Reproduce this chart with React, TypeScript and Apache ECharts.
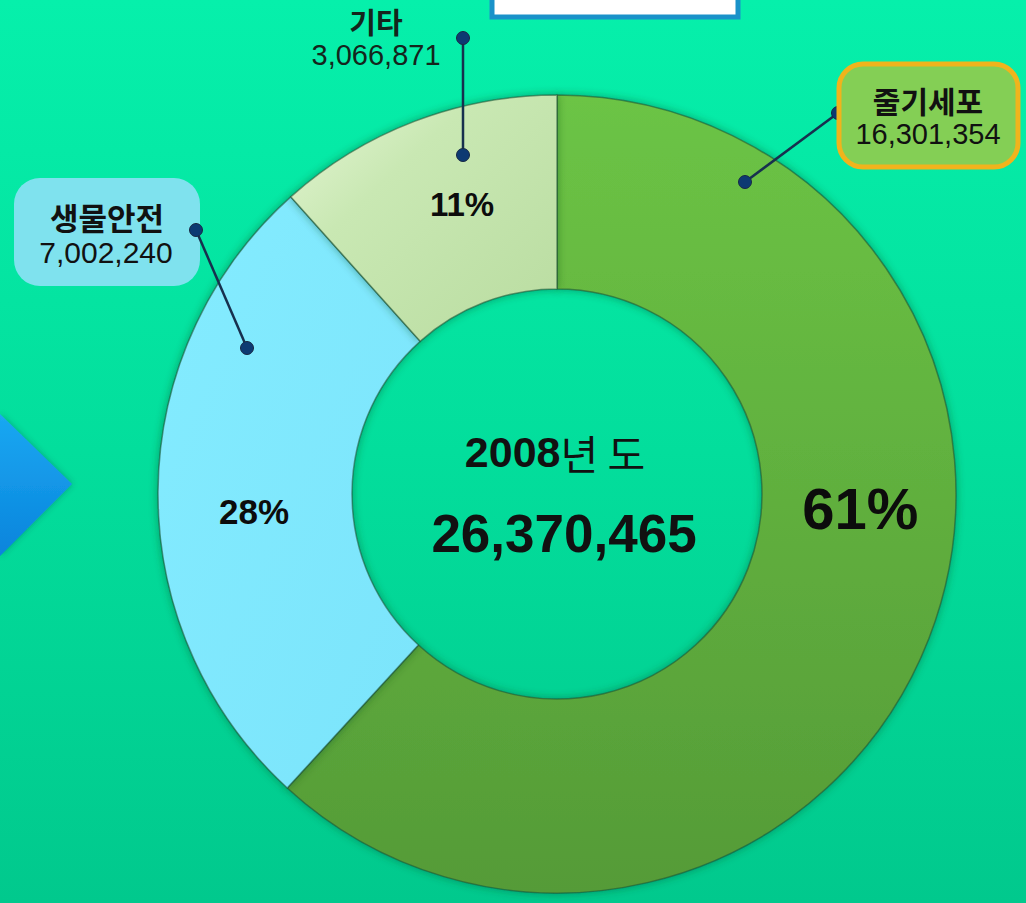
import React, { useEffect, useRef } from "react";
import * as echarts from "echarts";

const categories = ["줄기세포", "생물안전", "기타"];
const values = [16301354, 7002240, 3066871];
const valueLabels = ["16,301,354", "7,002,240", "3,066,871"];
const percentLabels = ["61%", "28%", "11%"];
const centerYear = "2008";
const centerYearSuffix = "년 도";
const centerTotal = "26,370,465";

const KR = '"Noto Sans CJK KR", "Noto Sans", sans-serif';
const AR = '"Liberation Sans", Arial, sans-serif';

export default function App() {
  const ref = useRef<HTMLDivElement>(null);

  useEffect(() => {
    if (!ref.current) return;
    const chart = echarts.init(ref.current, null, { renderer: "svg" });

    const sliceStyles = [
      {
        color: new echarts.graphic.LinearGradient(0, 0, 0, 1, [
          { offset: 0, color: "#6cc445" },
          { offset: 1, color: "#559b37" },
        ]),
        labelSize: 58,
        offset: [19, -96],
      },
      {
        color: new echarts.graphic.LinearGradient(0, 0, 1, 1, [
          { offset: 0, color: "#84ecff" },
          { offset: 1, color: "#7be4fb" },
        ]),
        labelSize: 35,
        offset: [2, 19],
      },
      {
        color: new echarts.graphic.LinearGradient(0, 0, 1, 1, [
          { offset: 0, color: "#e6f6d6" },
          { offset: 0.35, color: "#c9e8b3" },
          { offset: 1, color: "#b9dca0" },
        ]),
        labelSize: 33,
        offset: [14, -5],
      },
    ];

    const data = categories.map((name, i) => ({
      name,
      value: values[i],
      itemStyle: { color: sliceStyles[i].color },
      label: {
        formatter: percentLabels[i],
        fontSize: sliceStyles[i].labelSize,
        offset: sliceStyles[i].offset,
      },
    }));

    const dot = (x: number, y: number) => ({
      type: "circle",
      shape: { cx: x, cy: y, r: 6.5 },
      style: { fill: "#0d3a72", stroke: "#1a2a44", lineWidth: 1 },
      z: 20,
    });
    const line = (x1: number, y1: number, x2: number, y2: number) => ({
      type: "line",
      shape: { x1, y1, x2, y2 },
      style: { stroke: "#17304e", lineWidth: 2.5 },
      z: 19,
    });

    const option: any = {
      animation: false,
      backgroundColor: "transparent",
      series: [
        {
          type: "pie",
          center: [557, 494],
          radius: [205, 399],
          startAngle: 90,
          clockwise: true,
          avoidLabelOverlap: false,
          itemStyle: {
            borderColor: "rgba(30,80,50,0.55)",
            borderWidth: 1.5,
            shadowBlur: 8,
            shadowColor: "rgba(0,70,40,0.45)",
          },
          label: {
            show: true,
            position: "inside",
            color: "#0c0c0c",
            fontFamily: AR,
            fontWeight: "bold",
          },
          labelLine: { show: false },
          emphasis: { disabled: true },
          data,
        },
      ],
      graphic: [
        // left blue arrow
        {
          type: "polygon",
          shape: { points: [[0, 414], [72, 484], [0, 556]] },
          style: {
            fill: new echarts.graphic.LinearGradient(0, 0, 0, 1, [
              { offset: 0, color: "#1aa8f2" },
              { offset: 1, color: "#0a84dc" },
            ]),
            shadowBlur: 6,
            shadowColor: "rgba(0,60,80,0.4)",
          },
        },
        // top title box (cut off)
        {
          type: "rect",
          shape: { x: 492, y: -40, width: 246, height: 57 },
          style: { fill: "#ffffff", stroke: "#1a92c9", lineWidth: 5 },
        },
        // center text
        {
          type: "text",
          x: 555,
          y: 452,
          style: {
            text: `{b|${centerYear}}{n|${centerYearSuffix}}`,
            align: "center",
            verticalAlign: "middle",
            rich: {
              b: { fontFamily: AR, fontWeight: "bold", fontSize: 43, fill: "#111" },
              n: { fontFamily: KR, fontWeight: "normal", fontSize: 41, fill: "#111" },
            },
          },
          z: 10,
        },
        {
          type: "text",
          x: 564,
          y: 533,
          style: {
            text: centerTotal,
            align: "center",
            verticalAlign: "middle",
            fontFamily: AR,
            fontWeight: "bold",
            fontSize: 53,
            fill: "#111",
          },
          z: 10,
        },
        // 기타 callout
        line(463, 38, 463, 155),
        dot(463, 38),
        dot(463, 155),
        {
          type: "text",
          x: 376,
          y: 21,
          style: {
            text: categories[2],
            align: "center",
            verticalAlign: "middle",
            fontFamily: KR,
            fontWeight: "bold",
            fontSize: 29,
            fill: "#14251c",
          },
        },
        {
          type: "text",
          x: 376,
          y: 55,
          style: {
            text: valueLabels[2],
            align: "center",
            verticalAlign: "middle",
            fontFamily: AR,
            fontSize: 29,
            fill: "#14251c",
          },
        },
        // 생물안전 callout
        {
          type: "rect",
          shape: { x: 14, y: 178, width: 186, height: 108, r: 26 },
          style: { fill: "#7fe2ee" },
          z: 5,
        },
        {
          type: "text",
          x: 107,
          y: 216,
          style: {
            text: categories[1],
            align: "center",
            verticalAlign: "middle",
            fontFamily: KR,
            fontWeight: "bold",
            fontSize: 31,
            fill: "#111",
          },
          z: 6,
        },
        {
          type: "text",
          x: 106,
          y: 252,
          style: {
            text: valueLabels[1],
            align: "center",
            verticalAlign: "middle",
            fontFamily: AR,
            fontSize: 30,
            fill: "#111",
          },
          z: 6,
        },
        line(196, 230, 247, 348),
        dot(196, 230),
        dot(247, 348),
        // 줄기세포 callout
        line(838, 113, 745, 182),
        dot(838, 113),
        dot(745, 182),
        {
          type: "rect",
          shape: { x: 839, y: 64, width: 179, height: 103, r: 24 },
          style: { fill: "#84cf55", stroke: "#f0b41c", lineWidth: 5 },
          z: 25,
        },
        {
          type: "text",
          x: 928,
          y: 100,
          style: {
            text: categories[0],
            align: "center",
            verticalAlign: "middle",
            fontFamily: KR,
            fontWeight: "bold",
            fontSize: 30,
            fill: "#111",
          },
          z: 26,
        },
        {
          type: "text",
          x: 928,
          y: 134,
          style: {
            text: valueLabels[0],
            align: "center",
            verticalAlign: "middle",
            fontFamily: AR,
            fontSize: 29,
            fill: "#111",
          },
          z: 26,
        },
      ],
    };

    chart.setOption(option);
    return () => chart.dispose();
  }, []);

  return (
    <div
      ref={ref}
      style={{
        position: "fixed",
        left: 0,
        top: 0,
        width: 1026,
        height: 903,
        background: "linear-gradient(180deg, #06f0ab 0%, #03de9c 50%, #01c98d 100%)",
      }}
    />
  );
}
